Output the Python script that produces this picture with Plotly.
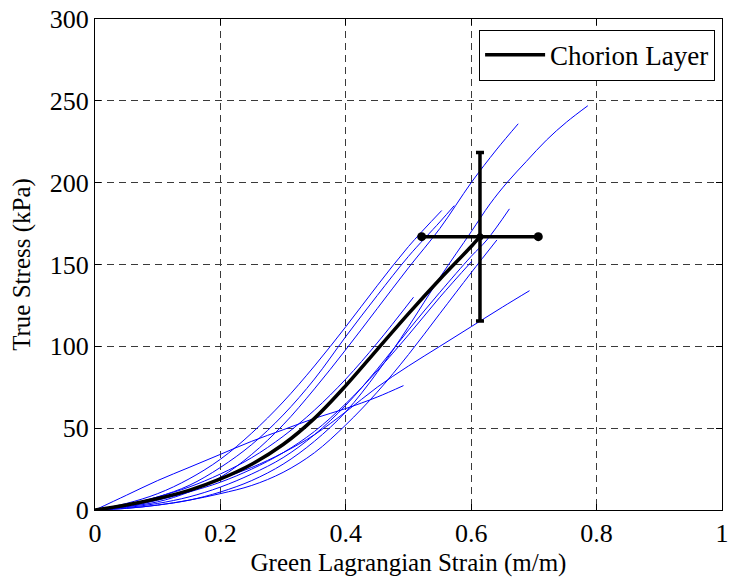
import plotly.graph_objects as go

# ---- data ----
a_x = [0, 0.05, 0.1, 0.15, 0.2, 0.25, 0.3, 0.35, 0.4, 0.45, 0.5, 0.55, 0.6, 0.63, 0.657, 0.688, 0.72, 0.752, 0.786]
a_y = [0, 1, 3, 6, 11, 18, 28, 42, 60, 84, 112, 142, 170, 187, 200, 213, 226, 237, 247]

b_x = [0, 0.05, 0.1, 0.15, 0.2, 0.25, 0.3, 0.35, 0.4, 0.45, 0.5, 0.55, 0.6, 0.64, 0.675]
b_y = [0, 2, 5, 11, 20, 34, 52, 74, 98, 123, 148, 172, 200, 220, 236]

c1_x = [0, 0.05, 0.1, 0.15, 0.2, 0.25, 0.3, 0.35, 0.4, 0.45, 0.5, 0.553]
c1_y = [0, 4, 10, 19, 31, 47, 66, 88, 112, 137, 161, 183]

c2_x = [0, 0.05, 0.1, 0.15, 0.2, 0.25, 0.3, 0.35, 0.4, 0.45, 0.5, 0.55, 0.573]
c2_y = [0, 3, 8, 15, 26, 40, 58, 80, 106, 131, 155, 176, 186]

d_x = [0, 0.05, 0.1, 0.15, 0.2, 0.25, 0.3, 0.35, 0.4, 0.45, 0.5, 0.55, 0.6, 0.625, 0.661]
d_y = [0, 1.5, 4, 8, 14, 22, 32, 46, 64, 86, 110, 133, 155, 165, 184]

e_x = [0, 0.05, 0.1, 0.15, 0.2, 0.25, 0.3, 0.35, 0.4, 0.45, 0.5, 0.55, 0.6, 0.641]
e_y = [0, 1, 3, 6, 10, 15, 23, 35, 52, 72, 95, 120, 145, 165]

f_x = [0, 0.05, 0.1, 0.15, 0.2, 0.25, 0.3, 0.35, 0.4, 0.45, 0.5, 0.55, 0.6, 0.65, 0.693]
f_y = [0, 3, 7, 12, 19, 26, 35, 46, 60, 75, 88, 100, 112, 124, 134]

g_x = [0, 0.05, 0.1, 0.15, 0.2, 0.25, 0.3, 0.35, 0.4, 0.45, 0.492]
g_y = [0, 9, 18, 26, 34, 42, 49, 56, 62, 69, 76]

h_x = [0, 0.05, 0.1, 0.15, 0.2, 0.25, 0.3, 0.35, 0.4, 0.45, 0.5, 0.55, 0.601]
h_y = [0, 2, 6, 11, 17, 25, 35, 48, 65, 85, 107, 130, 152]

i_x = [0, 0.05, 0.1, 0.15, 0.2, 0.25, 0.3, 0.35, 0.4, 0.45, 0.508]
i_y = [0, 3, 8, 14, 22, 32, 45, 61, 80, 102, 130]

mean_x = [0, 0.05, 0.1, 0.15, 0.2, 0.25, 0.3, 0.35, 0.4, 0.45, 0.5, 0.55, 0.6, 0.614]
mean_y = [0, 3, 7, 12, 19, 28, 40, 56, 76, 98, 120, 141, 161, 167]

end_x = 0.614
end_y = 167
sd_x = 0.093
sd_y = 51.5

x_ticks = [0, 0.2, 0.4, 0.6, 0.8, 1]
x_labels = ["0", "0.2", "0.4", "0.6", "0.8", "1"]
y_ticks = [0, 50, 100, 150, 200, 250, 300]

FONT = "Liberation Serif, Times New Roman, serif"

fig = go.Figure()

specimens = [(a_x, a_y), (b_x, b_y), (c1_x, c1_y), (c2_x, c2_y), (d_x, d_y),
             (e_x, e_y), (f_x, f_y), (g_x, g_y), (h_x, h_y), (i_x, i_y)]
for sx, sy in specimens:
    fig.add_trace(go.Scatter(x=sx, y=sy, mode="lines",
                             line=dict(color="#0000FF", width=1, shape="spline", smoothing=1.0),
                             showlegend=False, hoverinfo="skip"))

fig.add_trace(go.Scatter(x=mean_x, y=mean_y, mode="lines", name="Chorion Layer",
                         line=dict(color="black", width=3.5, shape="spline", smoothing=1.0), showlegend=True))

# vertical (stress) error bar
fig.add_trace(go.Scatter(x=[end_x], y=[end_y], mode="markers",
                         marker=dict(color="black", size=7),
                         error_y=dict(type="constant", value=sd_y, color="black", thickness=3.5, width=4),
                         showlegend=False))
# horizontal (strain) error bar with dot ends
fig.add_trace(go.Scatter(x=[end_x - sd_x, end_x + sd_x], y=[end_y, end_y], mode="lines+markers",
                         line=dict(color="black", width=3.5), marker=dict(color="black", size=9),
                         showlegend=False))

axis_common = dict(showline=True, linecolor="black", linewidth=1, mirror="ticks",
                   ticks="inside", ticklen=6, tickcolor="black", automargin=False,
                   showgrid=True, gridcolor="#3a3a3a", gridwidth=1, griddash="7px,5px",
                   zeroline=False, tickfont=dict(family=FONT, size=26, color="black"))

fig.update_xaxes(range=[0, 1], tickvals=x_ticks, ticktext=x_labels,
                 title=dict(text="Green Lagrangian Strain (m/m)", font=dict(family=FONT, size=25, color="black"), standoff=6),
                 **axis_common)
fig.update_yaxes(range=[0, 300], tickvals=y_ticks,
                 title=dict(text="True Stress (kPa)", font=dict(family=FONT, size=25, color="black"), standoff=12),
                 **axis_common)

fig.update_layout(
    width=730, height=583,
    margin=dict(l=95, r=8, t=19, b=73),
    plot_bgcolor="white", paper_bgcolor="white",
    legend=dict(x=0.989, y=0.978, xanchor="right", yanchor="top",
                bgcolor="white", bordercolor="black", borderwidth=1,
                font=dict(family=FONT, size=27, color="black"), itemwidth=60),
    font=dict(family=FONT, color="black"),
    hovermode=False,
)

# remove the default 8px page margin so the figure fills the 730x583 window exactly
fig.write_html("out.html", config={"displayModeBar": False},
               post_script="document.body.style.margin='0';document.body.style.overflow='hidden';")
